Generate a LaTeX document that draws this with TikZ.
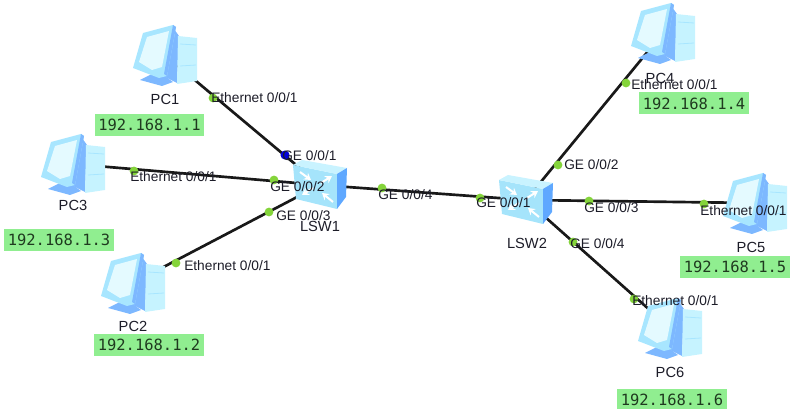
\documentclass[tikz,border=0pt]{standalone}
\usepackage{fontspec}
\setmainfont{Liberation Sans}
\newfontfamily\ipfont{DejaVu Sans Mono}
\usetikzlibrary{arrows.meta}
\definecolor{pcscreen}{HTML}{E4FAFF}
\definecolor{pcbody}{HTML}{A8E6FF}
\definecolor{pcside}{HTML}{7DB8FF}
\definecolor{pctower}{HTML}{C6F3FF}
\definecolor{swfront}{HTML}{A5E4FB}
\definecolor{swtop}{HTML}{C9F3FF}
\definecolor{swside}{HTML}{5FA8FF}
\definecolor{ipgreen}{HTML}{90EE90}
\definecolor{iptext}{HTML}{1F3A1F}
\definecolor{portgreen}{HTML}{84D43A}
\definecolor{labeltext}{HTML}{1C1C28}

\begin{document}
\begin{tikzpicture}[
    x=0.75pt, y=-0.75pt,
    device/.style={inner sep=0pt, minimum size=1pt},
    link/.style={draw=black!90, line width=2pt},
    port/.style={circle, fill=portgreen, inner sep=0pt, minimum size=6.6pt},
    bluepoint/.style={circle, fill=blue!85!black, inner sep=0pt, minimum size=6.8pt},
    portlabel/.style={anchor=west, inner sep=0pt, font=\fontsize{10.3}{12}\selectfont, text=labeltext},
    devname/.style={inner sep=0pt, font=\fontsize{11}{12}\selectfont, text=labeltext},
    ipbox/.style={fill=ipgreen, inner sep=0pt, minimum width=82pt, minimum height=16.5pt,
        font=\ipfont\fontsize{11.6}{13}\selectfont, text=iptext},
    pcicon/.pic={
        \fill[pcside] (9,-26) -- (14,-19) -- (12,28) -- (-4,20) -- cycle;
        \fill[pctower] (13,-19) -- (32,-17) -- (32,26) -- (12,29) -- cycle;
        \draw[pcbody, line width=0.6pt] (15,-11) -- (31,-10) (15,11) -- (31,10);
        \fill[pcside] (-25,25) -- (-11,18) -- (-9,12) -- (-3,12) -- (-3,19) -- (8,27) -- (-3,31) -- cycle;
        \fill[pcbody] (-32,13) -- (-22,-22) -- (8,-30) -- (11,-28) -- (2,21) -- (-6,23) -- cycle;
        \fill[pcside] (8,-30) -- (11,-28) -- (2,21) -- (-1,19) -- cycle;
        \fill[pcscreen] (-26,7) -- (-18,-18) -- (4,-24) -- (-3,12) -- (-13,15) -- cycle;
    },
    swicon/.pic={
        \fill[swfront] (-27,-20) -- (17,-11) -- (17,24) -- (-24,14) -- cycle;
        \fill[swtop] (-27,-20) -- (-18,-25) -- (27,-17) -- (17,-11) -- cycle;
        \fill[swside] (17,-11) -- (27,-17) -- (26,12) -- (17,24) -- cycle;
        \foreach \a/\b/\c/\d in {-20/-13/-9/-5, 1/-2/12/-9, -7/3/-18/10, 13/17/2/8}
            \draw[white, line width=1.5pt, -{Stealth[length=5pt, width=6pt]}] (\a,\b) -- (\c,\d);
    }
]
\useasboundingbox (0,0) rectangle (797,409);

% devices
\node[device] (pc1) at (165,55) {};
\node[device] (pc2) at (133,283) {};
\node[device] (pc3) at (73,164) {};
\node[device] (pc4) at (663,33) {};
\node[device] (pc5) at (755,203) {};
\node[device] (pc6) at (670,328) {};
\node[device] (lsw1) at (320,185) {};
\node[device] (lsw2) at (526,200) {};

% links
\foreach \p in {pc1,pc2,pc3} \draw[link] (\p) -- (lsw1);
\foreach \p in {pc4,pc5,pc6} \draw[link] (\p) -- (lsw2);
\draw[link] (lsw1) -- (lsw2);

\foreach \p in {pc1,pc2,pc3,pc4,pc5,pc6} \pic at (\p) {pcicon};
\foreach \s in {lsw1,lsw2} \pic at (\s) {swicon};

% port points
\node[port] (a1) at (213,98) {};
\node[bluepoint] (b1) at (285,155) {};
\node[port] (a3) at (134,171) {};
\node[port] (b3) at (274,180) {};
\node[port] (a2) at (176,263) {};
\node[port] (b2) at (269,212) {};
\node[port] (c1) at (382,188) {};
\node[port] (c2) at (480,198) {};
\node[port] (d4) at (558,165) {};
\node[port] (a4) at (626,83) {};
\node[port] (d5) at (589,201) {};
\node[port] (a5) at (704,204) {};
\node[port] (d6) at (573,242) {};
\node[port] (a6) at (634,299) {};

% port labels
\node[portlabel] (ta1) at (211,98) {Ethernet 0/0/1};
\node[portlabel] (tb1) at (282,156) {GE 0/0/1};
\node[portlabel] (ta3) at (130,177) {Ethernet 0/0/1};
\node[portlabel] (tb3) at (270,187) {GE 0/0/2};
\node[portlabel] (ta2) at (184,266) {Ethernet 0/0/1};
\node[portlabel] (tb2) at (276,216) {GE 0/0/3};
\node[portlabel] (tc1) at (378,195) {GE 0/0/4};
\node[portlabel] (tc2) at (476,203) {GE 0/0/1};
\node[portlabel] (td4) at (564,165) {GE 0/0/2};
\node[portlabel] (ta4) at (631,85) {Ethernet 0/0/1};
\node[portlabel] (td5) at (584,208) {GE 0/0/3};
\node[portlabel] (ta5) at (700,211) {Ethernet 0/0/1};
\node[portlabel] (td6) at (570,244) {GE 0/0/4};
\node[portlabel] (ta6) at (632,301) {Ethernet 0/0/1};

% names
\node[devname] (n1) at (165,99) {PC1};
\node[devname] (n2) at (133,326) {PC2};
\node[devname] (n3) at (73,205) {PC3};
\node[devname] (n4) at (660,78) {PC4};
\node[devname] (n5) at (751,247) {PC5};
\node[devname] (n6) at (670,372) {PC6};
\node[devname] (n7) at (320,226) {LSW1};
\node[devname] (n8) at (527,243) {LSW2};

% addresses
\node[ipbox] (ip1) at (149.5,125) {192.168.1.1};
\node[ipbox] (ip2) at (149,345) {192.168.1.2};
\node[ipbox] (ip3) at (59,240) {192.168.1.3};
\node[ipbox] (ip4) at (694,103.5) {192.168.1.4};
\node[ipbox] (ip5) at (735,267) {192.168.1.5};
\node[ipbox] (ip6) at (672,400) {192.168.1.6};
\end{tikzpicture}
\end{document}
